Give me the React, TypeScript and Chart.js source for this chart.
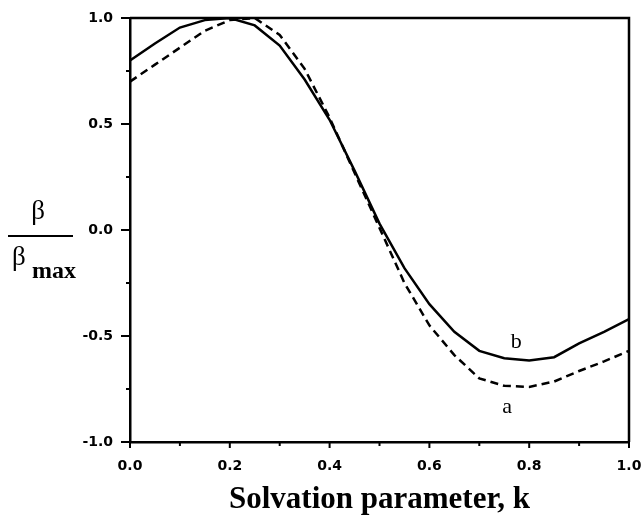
import React, { useEffect, useRef } from "react";
import { Chart, registerables } from "chart.js";

Chart.register(...registerables);

const kValues = [0, 0.05, 0.1, 0.15, 0.2, 0.25, 0.3, 0.35, 0.4, 0.45, 0.5, 0.55, 0.6, 0.65, 0.7, 0.75, 0.8, 0.85, 0.9, 0.95, 1.0];
const curveB = [0.8, 0.88, 0.955, 0.99, 1.0, 0.965, 0.87, 0.71, 0.52, 0.28, 0.03, -0.18, -0.35, -0.48, -0.57, -0.605, -0.615, -0.6, -0.535, -0.48, -0.42];
const curveA = [0.7, 0.78, 0.86, 0.94, 0.99, 1.0, 0.92, 0.76, 0.53, 0.27, 0.01, -0.25, -0.45, -0.59, -0.7, -0.735, -0.74, -0.715, -0.665, -0.62, -0.57];
const curveLabels = ["b", "a"];
const curveLabelPos = [
  { x: 0.774, y: -0.53 },
  { x: 0.756, y: -0.835 },
];
const xTickValues = [0, 0.1, 0.2, 0.3, 0.4, 0.5, 0.6, 0.7, 0.8, 0.9, 1.0];
const yTickValues = [-1, -0.75, -0.5, -0.25, 0, 0.25, 0.5, 0.75, 1];
const xTitle = "Solvation parameter, k";

const decorPlugin = {
  id: "decor",
  afterDraw(chart: any) {
    const { ctx, chartArea, scales } = chart;
    const xs = scales.x;
    const ys = scales.y;
    ctx.save();
    ctx.strokeStyle = "#000";
    ctx.lineWidth = 2.5;
    ctx.beginPath();
    ctx.moveTo(chartArea.left, chartArea.top);
    ctx.lineTo(chartArea.right, chartArea.top);
    ctx.lineTo(chartArea.right, chartArea.bottom);
    ctx.stroke();
    ctx.lineWidth = 2;
    xTickValues.forEach((v, i) => {
      const px = xs.getPixelForValue(v);
      const len = i % 2 === 0 ? 6 : 4;
      ctx.beginPath();
      ctx.moveTo(px, chartArea.bottom);
      ctx.lineTo(px, chartArea.bottom + len);
      ctx.stroke();
    });
    yTickValues.forEach((v, i) => {
      const py = ys.getPixelForValue(v);
      const len = i % 2 === 0 ? 9 : 4;
      ctx.beginPath();
      ctx.moveTo(chartArea.left, py);
      ctx.lineTo(chartArea.left - len, py);
      ctx.stroke();
    });
    ctx.fillStyle = "#000";
    ctx.font = "22px 'Liberation Serif'";
    ctx.textAlign = "center";
    ctx.textBaseline = "middle";
    curveLabels.forEach((t, i) => {
      ctx.fillText(t, xs.getPixelForValue(curveLabelPos[i].x), ys.getPixelForValue(curveLabelPos[i].y));
    });
    const cy = ys.getPixelForValue(0);
    ctx.textAlign = "center";
    ctx.textBaseline = "alphabetic";
    ctx.font = "27px 'Liberation Serif'";
    ctx.fillText("β", 38, cy - 11);
    ctx.lineWidth = 2;
    ctx.beginPath();
    ctx.moveTo(8, cy + 6);
    ctx.lineTo(73, cy + 6);
    ctx.stroke();
    ctx.textAlign = "left";
    ctx.fillText("β", 12, cy + 35);
    ctx.font = "bold 24px 'Liberation Serif'";
    ctx.fillText("max", 32, cy + 48);
    ctx.restore();
  },
};

export default function App() {
  const ref = useRef<HTMLCanvasElement | null>(null);
  useEffect(() => {
    document.body.style.margin = "0";
    const canvas = ref.current;
    if (!canvas) return;
    const chart = new Chart(canvas, {
      type: "line",
      data: {
        labels: kValues,
        datasets: [
          {
            label: "b",
            data: kValues.map((k, i) => ({ x: k, y: curveB[i] })),
            borderColor: "#000",
            borderWidth: 2.5,
            pointRadius: 0,
            tension: 0,
            fill: false,
          },
          {
            label: "a",
            data: kValues.map((k, i) => ({ x: k, y: curveA[i] })),
            borderColor: "#000",
            borderWidth: 2.5,
            borderDash: [8, 5],
            pointRadius: 0,
            tension: 0,
            fill: false,
          },
        ],
      },
      options: {
        animation: false,
        responsive: false,
        maintainAspectRatio: false,
        layout: { padding: { top: 18, right: 14, left: 0, bottom: 0 } },
        plugins: { legend: { display: false }, tooltip: { enabled: false } },
        scales: {
          x: {
            type: "linear",
            min: 0,
            max: 1,
            grid: { display: false, drawTicks: false },
            border: { display: true, color: "#000", width: 2.5 },
            ticks: {
              stepSize: 0.2,
              padding: 16,
              color: "#000",
              font: { family: "'DejaVu Sans'", size: 14, weight: "bold" },
              callback: (v: any) => Number(v).toFixed(1),
            },
            title: {
              display: true,
              text: xTitle,
              color: "#000",
              font: { family: "'Liberation Serif'", size: 31, weight: "bold" },
              padding: { top: 0, bottom: -2 },
            },
            afterFit: (s: any) => {
              s.height = 75;
              s.paddingLeft = 0;
              s.paddingRight = 0;
            },
          },
          y: {
            type: "linear",
            min: -1,
            max: 1,
            grid: { display: false, drawTicks: false },
            border: { display: true, color: "#000", width: 2.5 },
            ticks: {
              stepSize: 0.5,
              padding: 17,
              color: "#000",
              font: { family: "'DejaVu Sans'", size: 14, weight: "bold" },
              callback: (v: any) => Number(v).toFixed(1),
            },
            afterFit: (s: any) => {
              s.width = 130;
              s.paddingTop = 0;
              s.paddingBottom = 0;
            },
          },
        },
      },
      plugins: [decorPlugin],
    });
    return () => chart.destroy();
  }, []);
  return <canvas ref={ref} width={643} height={517} style={{ display: "block" }} />;
}
